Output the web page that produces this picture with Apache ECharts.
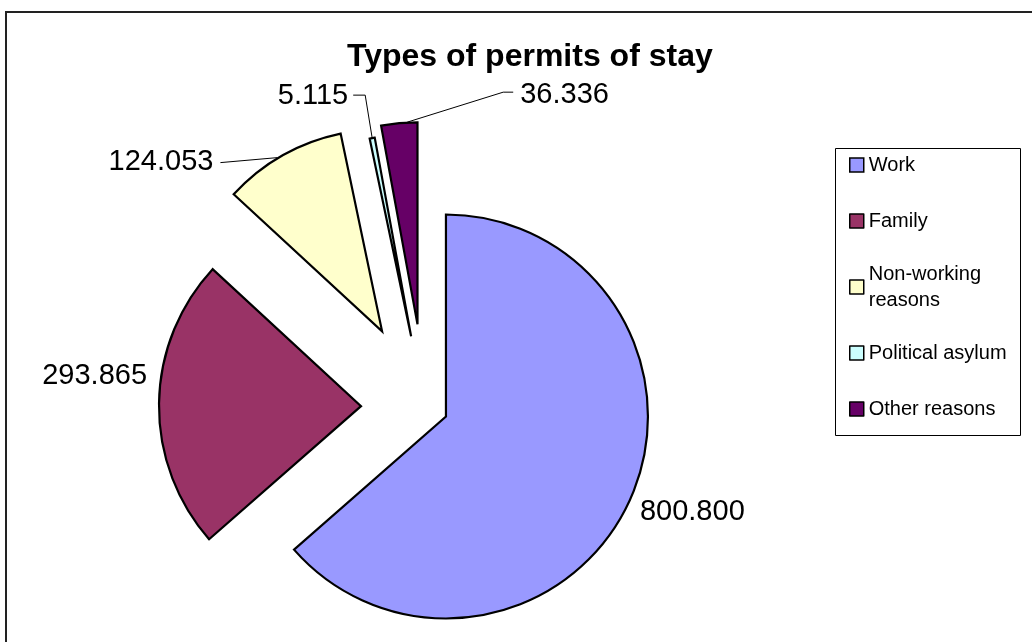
<!DOCTYPE html>
<html><head><meta charset="utf-8">
<script src="https://cdn.jsdelivr.net/npm/echarts@6/dist/echarts.min.js"></script>
<style>html,body{margin:0;padding:0;background:#fff}#c{width:1032px;height:642px}</style>
</head><body><div id="c"></div>
<script>
// ---- data ----
const title = 'Types of permits of stay';
const categories = ['Work', 'Family', 'Non-working reasons', 'Political asylum', 'Other reasons'];
const values = [800800, 293865, 124053, 5115, 36336];

// ---- styles / layout ----
const colors = ['#9999FF', '#993366', '#FFFFCC', '#CCFFFF', '#660066'];
const explode = [23, 64, 87, 72, 83];
const labelSpec = [
  { dx: 10, dy: 12, align: 'left', line: null },
  { dx: -12, dy: -28, align: 'right', line: null },
  { dx: -69, dy: 6, align: 'right', line: [[-5, 2], [-62, 7], [-62, 7]] },
  { dx: -24, dy: -42, align: 'right', line: [[0, 0], [-7, -43], [-19, -43]] },
  { dx: 121, dy: -28, align: 'left', line: [[8, -1], [104, -31], [114, -31]] }
];
const FONT = '"Liberation Sans", Arial, sans-serif';
const C = [425, 407], R = 202;

const fmt = v => String(v).replace(/\B(?=(\d{3})+(?!\d))/g, '.');

const total = values.reduce((a, b) => a + b, 0);
let cum = 0;
const series = categories.map((name, i) => {
  const mid = (cum + values[i] / 2) / total * 2 * Math.PI;
  cum += values[i];
  const ux = Math.sin(mid), uy = -Math.cos(mid);
  const center = [C[0] + explode[i] * ux, C[1] + explode[i] * uy];
  const anchor = [center[0] + R * ux, center[1] + R * uy];
  const spec = labelSpec[i];
  return {
    type: 'pie',
    silent: true,
    animation: false,
    legendHoverLink: false,
    radius: R,
    center: center,
    startAngle: 90,
    clockwise: true,
    avoidLabelOverlap: false,
    emphasis: { disabled: true },
    data: categories.map((n, j) => ({
      name: n,
      value: values[j],
      itemStyle: j === i
        ? { color: colors[j], borderColor: '#000', borderWidth: 2.2, borderJoin: 'miter', borderMiterLimit: 10 }
        : { color: 'rgba(0,0,0,0)', borderWidth: 0 },
      label: { show: j === i },
      labelLine: { show: j === i && !!spec.line }
    })),
    label: {
      position: 'outside',
      formatter: p => fmt(p.value),
      fontSize: 29,
      fontFamily: FONT,
      color: '#000'
    },
    labelLine: { length: 1, length2: 1, lineStyle: { color: '#000', width: 1 } },
    labelLayout: p => {
      if (p.dataIndex !== i) return {};
      const o = { x: anchor[0] + spec.dx, y: anchor[1] + spec.dy, align: spec.align, verticalAlign: 'middle' };
      if (spec.line) o.labelLinePoints = spec.line.map(q => [anchor[0] + q[0], anchor[1] + q[1]]);
      return o;
    }
  };
});

const chart = echarts.init(document.getElementById('c'), null, { renderer: 'canvas' });
chart.setOption({
  animation: false,
  backgroundColor: '#fff',
  title: {
    text: title,
    left: 342,
    top: 36,
    textStyle: { fontSize: 32, fontWeight: 'bold', fontFamily: FONT, color: '#000' }
  },
  legend: {
    orient: 'vertical',
    left: 844,
    top: 147,
    itemWidth: 14,
    itemHeight: 14,
    itemGap: 30,
    icon: 'rect',
    selectedMode: false,
    textStyle: { fontSize: 20, lineHeight: 26, fontFamily: FONT, color: '#000' },
    formatter: n => (n === categories[2] ? n.replace(' ', '\n') : n),
    data: categories.map((n, i) => Object.assign(
      { name: n, itemStyle: { color: colors[i], borderColor: '#000', borderWidth: 1.5 } },
      i === 2 ? { textStyle: { padding: [0, 0, -26, 0] } } : {}
    ))
  },
  graphic: [
    { type: 'rect', shape: { x: 6, y: 12, width: 1100, height: 700 },
      style: { fill: 'none', stroke: '#222', lineWidth: 2 }, silent: true },
    { type: 'rect', shape: { x: 835.5, y: 148.5, width: 185, height: 287 },
      style: { fill: 'none', stroke: '#000', lineWidth: 1 }, silent: true, z: -1 }
  ],
  series: series
});
</script>
</body></html>
